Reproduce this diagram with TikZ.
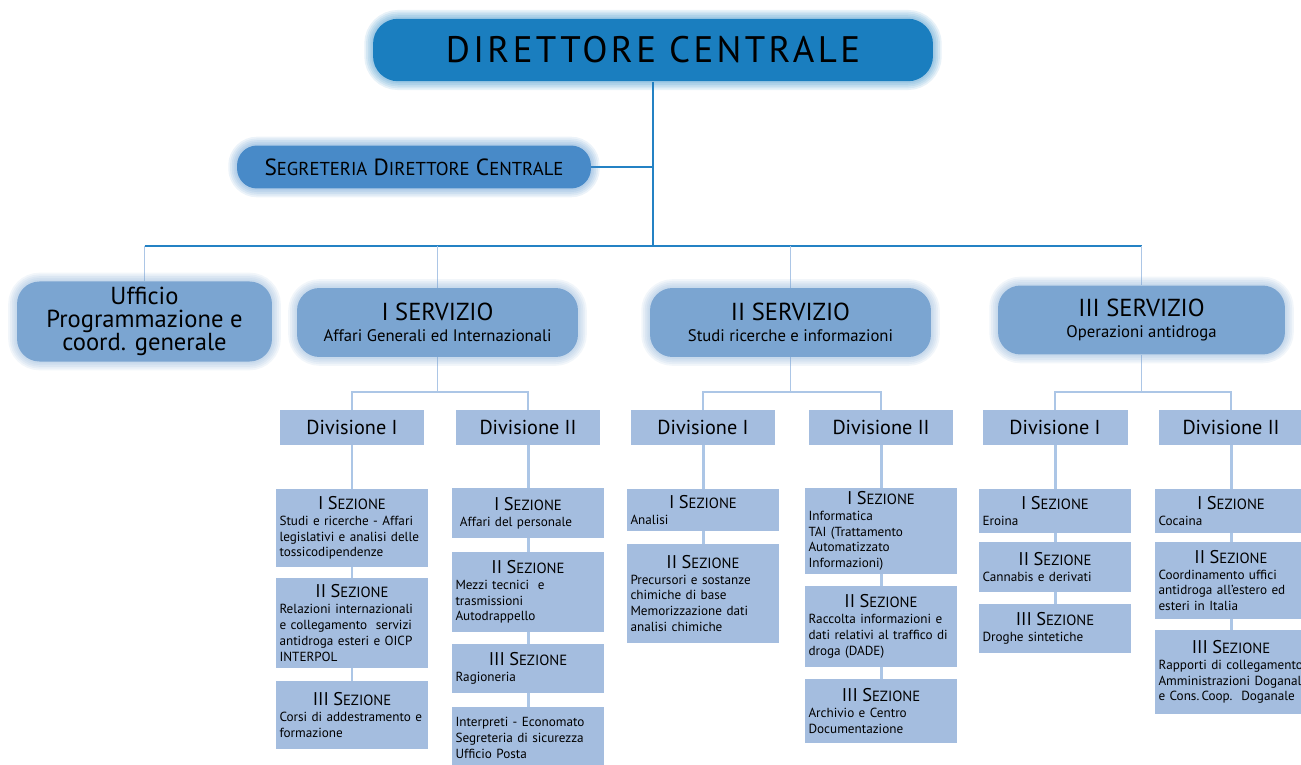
\documentclass[tikz,border=0pt]{standalone}
\usepackage{fontspec}
\setmainfont{PT Sans}
\newfontfamily\titlefont[LetterSpace=9]{PT Sans}
\usetikzlibrary{backgrounds}
\definecolor{dirblue}{RGB}{26,126,191}
\definecolor{segblue}{RGB}{72,138,200}
\definecolor{servblue}{RGB}{123,165,209}
\definecolor{divblue}{RGB}{164,189,223}
\definecolor{linkblue}{RGB}{172,198,230}
\definecolor{busblue}{RGB}{36,130,196}
\newcommand{\lowcaps}[1]{{\fontsize{0.8em}{1em}\selectfont #1}}
\newcommand{\sez}[1]{\makebox[\linewidth]{\fontsize{10.5}{12}\selectfont #1 S\lowcaps{EZIONE}}}
\newcommand{\longline}[1]{\makebox[\linewidth][l]{#1}}

\begin{document}
\begin{tikzpicture}[
    x=0.02cm, y=-0.02cm,
    glow/.style={preaction={draw=#1, draw opacity=.1, line width=10pt}, preaction={draw=#1, draw opacity=.1, line width=8pt},
                 preaction={draw=#1, draw opacity=.1, line width=6pt}, preaction={draw=#1, draw opacity=.1, line width=4pt},
                 preaction={draw=#1, draw opacity=.1, line width=2pt}},
    topbox/.style={rounded corners=0.5cm, fill=dirblue, glow=dirblue, minimum width=11.2cm, minimum height=1.25cm, font=\titlefont\fontsize{21}{24}\selectfont},
    segbox/.style={rounded corners=0.4cm, fill=segblue, glow=segblue, minimum width=7.08cm, minimum height=0.86cm, font=\fontsize{13.3}{16}\selectfont},
    servbox/.style={rounded corners=0.45cm, fill=servblue, glow=servblue, minimum width=5.62cm, minimum height=1.38cm, align=center},
    divbox/.style={fill=divblue, minimum width=2.9cm, minimum height=0.7cm, font=\fontsize{11.5}{13}\selectfont},
    sezbox/.style={fill=divblue, text width=2.9cm, inner xsep=0.07cm, inner ysep=1pt, minimum height=#1, align=left, font=\fontsize{7.5}{9}\selectfont},
    bus/.style={draw=busblue, line width=1.1pt},
    drop/.style={draw=linkblue, line width=0.9pt},
    link/.style={draw=linkblue, line width=1.7pt}
]
  \useasboundingbox (0,0) rectangle (1301,764);

  \node[topbox] (dir) at (653,50) {DIRETTORE CENTRALE};
  \node[segbox] (seg) at (414,167) {S\lowcaps{EGRETERIA} D\lowcaps{IRETTORE} C\lowcaps{ENTRALE}};

  \node[servbox, minimum width=5.1cm, minimum height=1.34cm, font=\fontsize{14}{13}\selectfont] (uff) at (144.5,321.5) {Ufficio\\Programmazione e\\coord. generale};
  \node[servbox] (serv1) at (437.5,322.5) {{\fontsize{14}{16}\selectfont I SERVIZIO}\\{\fontsize{9.5}{11}\selectfont Affari Generali ed Internazionali}};
  \node[servbox] (serv2) at (790.5,322.5) {{\fontsize{14}{16}\selectfont II SERVIZIO}\\{\fontsize{9.5}{11}\selectfont Studi ricerche e informazioni}};
  \node[servbox, minimum width=5.74cm] (serv3) at (1141.5,320) {{\fontsize{14}{16}\selectfont III SERVIZIO}\\{\fontsize{9.5}{11}\selectfont Operazioni antidroga}};

  \node[divbox] (d11) at (352,427.5) {Divisione I};
  \node[divbox] (d12) at (528,427.5) {Divisione II};
  \node[divbox] (d21) at (703,427.5) {Divisione I};
  \node[divbox] (d22) at (881,427.5) {Divisione II};
  \node[divbox] (d31) at (1055,427.5) {Divisione I};
  \node[divbox] (d32) at (1231,427.5) {Divisione II};

  \node[sezbox=1.56cm] (s111) at (352,528) {\sez{I}\\Studi e ricerche - Affari\\legislativi e analisi delle\\tossicodipendenze};
  \node[sezbox=1.8cm] (s112) at (352,623) {\sez{II}\\Relazioni internazionali\\e collegamento\ \ servizi\\antidroga esteri e OICP\\INTERPOL};
  \node[sezbox=1.36cm] (s113) at (352,715) {\sez{III}\\Corsi di addestramento e\\formazione};

  \node[sezbox=1cm] (s121) at (528,513) {\sez{I}\\\ Affari del personale};
  \node[sezbox=1.6cm] (s122) at (528,592) {\sez{II}\\Mezzi tecnici\ \ e\\trasmissioni\\Autodrappello};
  \node[sezbox=0.98cm] (s123) at (528,668.5) {\sez{III}\\Ragioneria};
  \node[sezbox=1.24cm] (s124) at (528,738) {Interpreti - Economato\\Segreteria di sicurezza\\Ufficio Posta};

  \node[sezbox=0.84cm] (s211) at (703,510) {\sez{I}\\Analisi};
  \node[sezbox=1.98cm] (s212) at (703,593.5) {\sez{II}\\Precursori e sostanze\\chimiche di base\\Memorizzazione dati\\analisi chimiche};

  \node[sezbox=1.72cm] (s221) at (881,531) {\sez{I}\\Informatica\\TAI (Trattamento\\Automatizzato\\Informazioni)};
  \node[sezbox=1.62cm] (s222) at (881,626.5) {\sez{II}\\Raccolta informazioni e\\\longline{dati relativi al traffico di}\\droga (DADE)};
  \node[sezbox=1.28cm] (s223) at (881,711) {\sez{III}\\Archivio e Centro\\Documentazione};

  \node[sezbox=0.88cm] (s311) at (1055,511) {\sez{I}\\Eroina};
  \node[sezbox=1cm] (s312) at (1055,567) {\sez{II}\\Cannabis e derivati};
  \node[sezbox=0.98cm] (s313) at (1055,628.5) {\sez{III}\\Droghe sintetiche};

  \node[sezbox=0.88cm] (s321) at (1231,511) {\sez{I}\\Cocaina};
  \node[sezbox=1.54cm] (s322) at (1231,580.5) {\sez{II}\\Coordinamento uffici\\\longline{antidroga all’estero ed}\\esteri in Italia};
  \node[sezbox=1.68cm] (s323) at (1231,672) {\sez{III}\\\longline{Rapporti di collegamento}\\\longline{Amministrazioni Doganali}\\e Cons.\,Coop.\ \ Doganale};

  \coordinate (hub) at (653,246);
  \coordinate (j1) at (437.5,392);
  \coordinate (j2) at (790.5,392);
  \coordinate (j3) at (1141.5,392);

  \begin{scope}[on background layer]
    \draw[bus] (dir) -- (hub);
    \draw[bus] (seg.east) -- (seg.east -| hub);
    \draw[bus] (uff.north |- hub) -- (serv3.north |- hub);
    \draw[drop] (uff.north |- hub) -- (uff.north);
    \draw[drop] (serv1.north |- hub) -- (serv1.north);
    \draw[drop] (serv2.north |- hub) -- (serv2.north);
    \draw[drop] (serv3.north |- hub) -- (serv3.north);

    \draw[drop] (serv1) -- (j1);
    \draw[drop] (d11.north) |- (j1) -| (d12.north);
    \draw[drop] (serv2) -- (j2);
    \draw[drop] (d21.north) |- (j2) -| (d22.north);
    \draw[drop] (serv3) -- (j3);
    \draw[drop] (d31.north) |- (j3) -| (d32.north);

    \draw[link] (d11) -- (s111) -- (s112) -- (s113);
    \draw[link] (d12) -- (s121) -- (s122) -- (s123) -- (s124);
    \draw[link] (d21) -- (s211) -- (s212);
    \draw[link] (d22) -- (s221) -- (s222) -- (s223);
    \draw[link] (d31) -- (s311) -- (s312) -- (s313);
    \draw[link] (d32) -- (s321) -- (s322) -- (s323);
  \end{scope}
\end{tikzpicture}
\end{document}
